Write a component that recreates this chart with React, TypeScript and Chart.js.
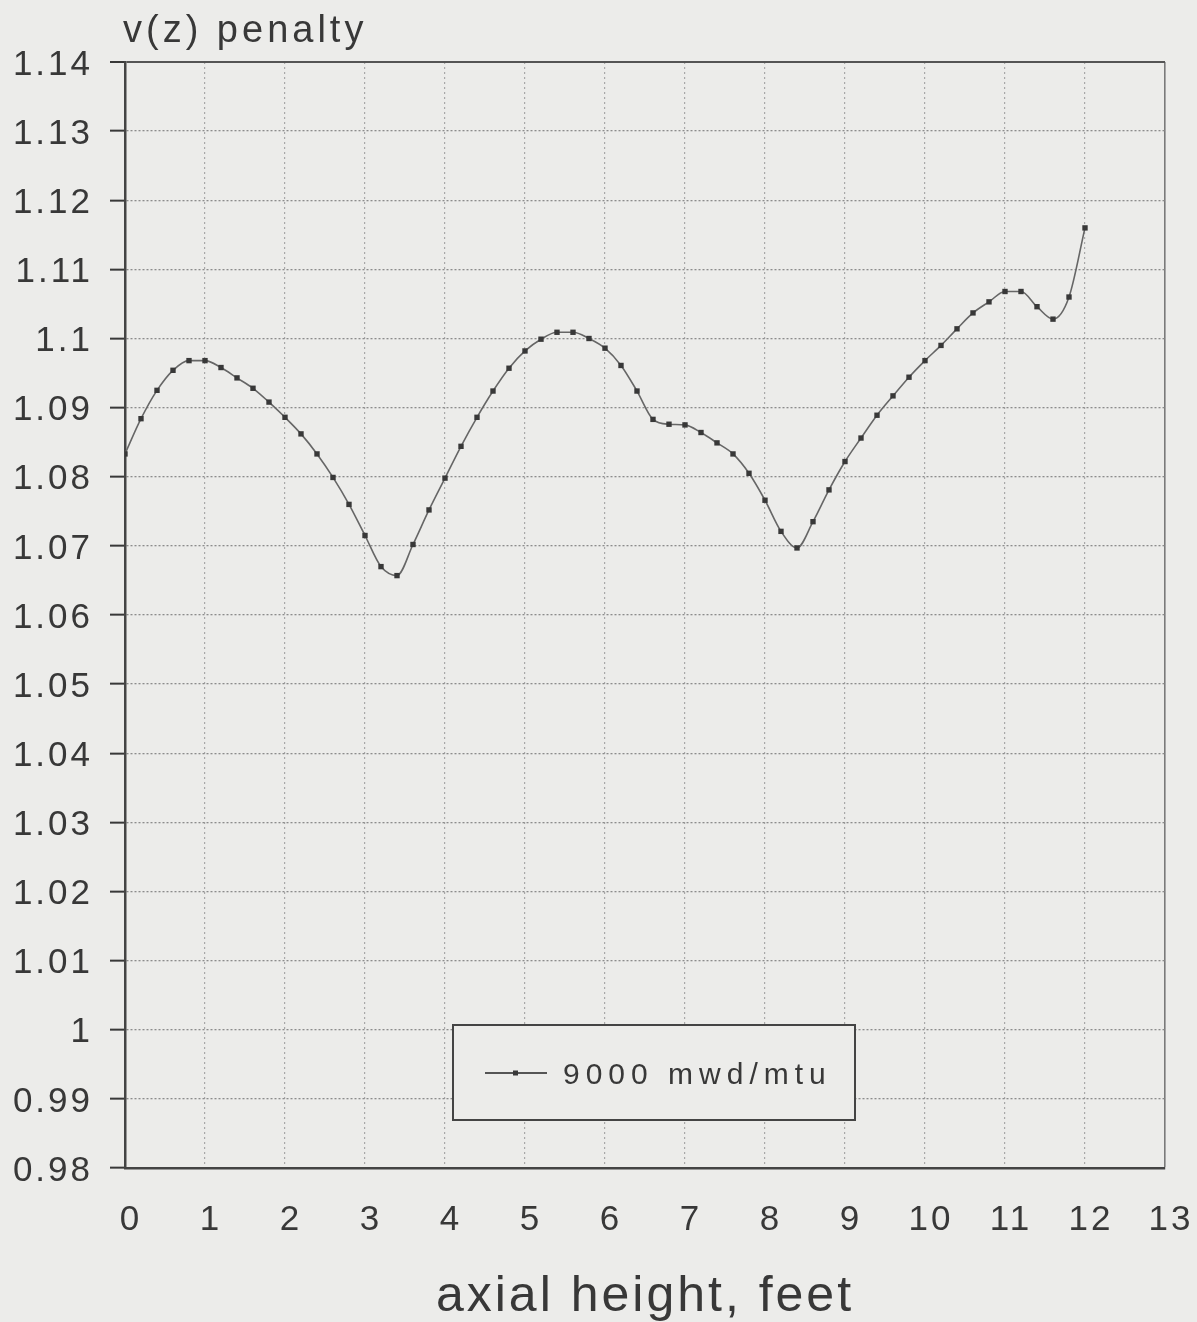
import React, { useEffect, useRef } from "react";
import { Chart, registerables } from "chart.js";

Chart.register(...registerables);

// ---- data ----
const heights = [
  0, 0.2, 0.4, 0.6, 0.8, 1.0, 1.2, 1.4, 1.6, 1.8,
  2.0, 2.2, 2.4, 2.6, 2.8, 3.0, 3.2, 3.4, 3.6, 3.8,
  4.0, 4.2, 4.4, 4.6, 4.8, 5.0, 5.2, 5.4, 5.6, 5.8,
  6.0, 6.2, 6.4, 6.6, 6.8, 7.0, 7.2, 7.4, 7.6, 7.8,
  8.0, 8.2, 8.4, 8.6, 8.8, 9.0, 9.2, 9.4, 9.6, 9.8,
  10.0, 10.2, 10.4, 10.6, 10.8, 11.0, 11.2, 11.4, 11.6, 11.8,
  12.0,
];
const penalty = [
  1.0833, 1.0884, 1.0925, 1.0954, 1.0968, 1.0968, 1.0958, 1.0943, 1.0928, 1.0908,
  1.0886, 1.0862, 1.0833, 1.0799, 1.0760, 1.0715, 1.0670, 1.0657, 1.0702, 1.0752,
  1.0798, 1.0844, 1.0886, 1.0924, 1.0957, 1.0982, 1.0999, 1.1009, 1.1009, 1.1000,
  1.0986, 1.0961, 1.0924, 1.0883, 1.0876, 1.0875, 1.0864, 1.0849, 1.0833, 1.0805,
  1.0766, 1.0721, 1.0697, 1.0735, 1.0781, 1.0822, 1.0856, 1.0889, 1.0917, 1.0944,
  1.0968, 1.0990, 1.1014, 1.1037, 1.1053, 1.1068, 1.1068, 1.1046, 1.1028, 1.1060,
  1.1160,
];
const xTicks = [0, 1, 2, 3, 4, 5, 6, 7, 8, 9, 10, 11, 12, 13];
const yTicks = [
  0.98, 0.99, 1.0, 1.01, 1.02, 1.03, 1.04, 1.05, 1.06, 1.07, 1.08, 1.09, 1.1,
  1.11, 1.12, 1.13, 1.14,
];
const seriesLabel = "9000 mwd/mtu";
const yTitle = "v(z) penalty";
const xTitle = "axial height, feet";

// ---- style ----
const W = 1197;
const H = 1322;
const BG = "#ececea";
const INK = "#383838";
const FAMILY = "'Liberation Sans', Arial, Helvetica, sans-serif";

const near = (a: number, b: number) => Math.abs(a - b) < 1e-6;

export default function App() {
  const ref = useRef<HTMLCanvasElement>(null);

  useEffect(() => {
    const canvas = ref.current;
    if (!canvas) return;

    const paper = {
      id: "paper",
      beforeLayout(chart: any) {
        chart.ctx.letterSpacing = "3px";
      },
      beforeDraw(chart: any) {
        const ctx = chart.ctx;
        ctx.save();
        ctx.fillStyle = BG;
        ctx.fillRect(0, 0, chart.width, chart.height);
        ctx.restore();
        ctx.letterSpacing = "3px";
      },
      afterDraw(chart: any) {
        const { ctx, chartArea } = chart;
        ctx.save();
        // y-axis caption at top-left
        ctx.letterSpacing = "4px";
        ctx.font = `38px ${FAMILY}`;
        ctx.fillStyle = INK;
        ctx.textAlign = "left";
        ctx.textBaseline = "alphabetic";
        ctx.fillText(yTitle, chartArea.left - 2, 42);

        // legend box inside plot
        const lx = chartArea.left + 328;
        const ly = chartArea.top + 963;
        const lw = 402;
        const lh = 95;
        ctx.fillStyle = BG;
        ctx.fillRect(lx, ly, lw, lh);
        ctx.strokeStyle = "#444";
        ctx.lineWidth = 2;
        ctx.strokeRect(lx, ly, lw, lh);
        const cy = ly + 48;
        ctx.strokeStyle = "#555";
        ctx.lineWidth = 2;
        ctx.beginPath();
        ctx.moveTo(lx + 32, cy);
        ctx.lineTo(lx + 94, cy);
        ctx.stroke();
        ctx.fillStyle = INK;
        ctx.fillRect(lx + 60, cy - 2.5, 5, 5);
        ctx.letterSpacing = "6px";
        ctx.font = `30px ${FAMILY}`;
        ctx.textBaseline = "middle";
        ctx.fillText(seriesLabel, lx + 110, cy + 3);
        ctx.restore();
      },
    };

    const chart = new Chart(canvas, {
      type: "line",
      data: {
        datasets: [
          {
            label: seriesLabel,
            data: heights.map((x, i) => ({ x, y: penalty[i] })),
            borderColor: "#666",
            borderWidth: 1.6,
            pointStyle: "rect",
            pointRadius: 3.8,
            pointBackgroundColor: INK,
            pointBorderColor: INK,
            pointBorderWidth: 0,
            cubicInterpolationMode: "monotone",
            fill: false,
          },
        ],
      },
      options: {
        responsive: false,
        animation: false,
        devicePixelRatio: 1,
        layout: { padding: { top: 62, right: 32, bottom: 0, left: 0 } },
        plugins: {
          legend: { display: false },
          tooltip: { enabled: false },
          title: { display: false },
        },
        scales: {
          x: {
            type: "linear",
            min: 0,
            max: 13,
            afterBuildTicks: (s: any) => {
              s.ticks = xTicks.map((v) => ({ value: v }));
            },
            afterFit: (s: any) => {
              s.height = 154;
              s.paddingLeft = 0;
              s.paddingRight = 0;
            },
            ticks: {
              padding: 31,
              labelOffset: 6,
              color: INK,
              maxRotation: 0,
              autoSkip: false,
              font: { family: FAMILY, size: 35 },
              callback: (v: any) => String(v),
            },
            grid: {
              drawTicks: false,
              color: (c: any) => (c.tick && near(c.tick.value, 13) ? "#7a7a7a" : "#a8a8a8"),
              lineWidth: (c: any) => (c.tick && near(c.tick.value, 13) ? 1.6 : 1.2),
            },
            border: {
              color: "#444",
              width: 2.5,
              dash: (c: any) => (c.tick && !near(c.tick.value, 13) ? [2, 3] : []),
            },
            title: {
              display: true,
              text: xTitle,
              color: INK,
              font: { family: FAMILY, size: 50, lineHeight: 1 },
              padding: { top: 0, bottom: 0 },
            },
          },
          y: {
            type: "linear",
            min: 0.98,
            max: 1.14,
            afterBuildTicks: (s: any) => {
              s.ticks = yTicks.map((v) => ({ value: v }));
            },
            afterFit: (s: any) => {
              s.width = 125;
              s.paddingTop = 0;
              s.paddingBottom = 0;
            },
            ticks: {
              padding: 17,
              labelOffset: 3,
              color: INK,
              font: { family: FAMILY, size: 35 },
              callback: (v: any) => String(parseFloat(Number(v).toFixed(2))),
            },
            grid: {
              drawTicks: true,
              tickLength: 15,
              tickColor: INK,
              tickWidth: 2,
              color: (c: any) => (c.tick && near(c.tick.value, 1.14) ? "#555" : "#8c8c8c"),
              lineWidth: (c: any) => (c.tick && near(c.tick.value, 1.14) ? 2 : 1.3),
            },
            border: {
              color: "#444",
              width: 2.5,
              dash: (c: any) => (c.tick && !near(c.tick.value, 1.14) ? [2, 2] : []),
            },
          },
        },
      },
      plugins: [paper],
    } as any);

    return () => chart.destroy();
  }, []);

  return (
    <div style={{ position: "fixed", left: 0, top: 0, width: W, height: H, background: BG }}>
      <canvas ref={ref} width={W} height={H} style={{ display: "block", width: W, height: H }} />
    </div>
  );
}
